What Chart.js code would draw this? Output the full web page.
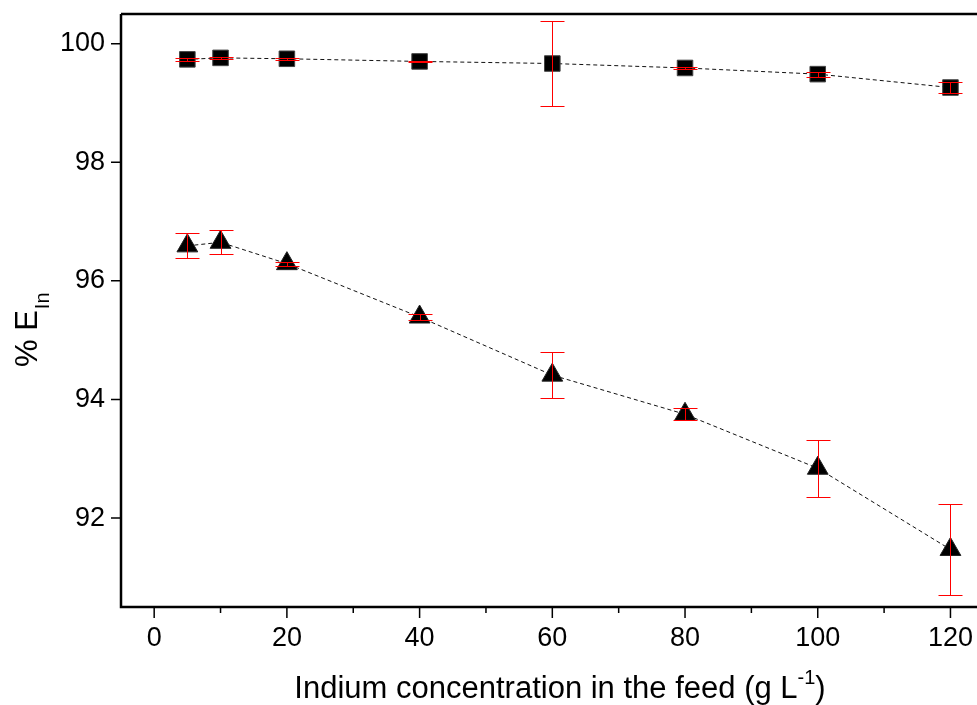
<!DOCTYPE html>
<html>
<head>
<meta charset="utf-8">
<script src="https://cdn.jsdelivr.net/npm/chart.js@4.4.0/dist/chart.umd.min.js"></script>
<style>
  html, body { margin: 0; padding: 0; background: #fff; overflow: hidden; }
  canvas { display: block; }
</style>
</head>
<body>
<canvas id="extractionChart" width="977" height="705"></canvas>
<script>
// feed concentration (g/L) and % extraction of indium, with std. deviations
var feedConc = [5, 10, 20, 40, 60, 80, 100, 120];
var extSquare = [99.735, 99.76, 99.745, 99.70, 99.665, 99.59, 99.486, 99.26];
var errSquare = [0.02, 0.02, 0.02, 0.01, 0.72, 0.015, 0.04, 0.10];
var extTriangle = [96.59, 96.65, 96.29, 95.39, 94.41, 93.75, 92.84, 91.47];
var errTriangle = [0.21, 0.20, 0.035, 0.05, 0.39, 0.10, 0.48, 0.76];

var xTicks = [0, 20, 40, 60, 80, 100, 120];
var xMinorTicks = [10, 30, 50, 70, 90, 110];
var yTicks = [92, 94, 96, 98, 100];

var FONT = '"Liberation Sans", Arial, sans-serif';

function toPoints(xs, ys) {
    return xs.map(function (x, i) { return { x: x, y: ys[i] }; });
}

// red error bars with caps, drawn over the markers
var errorBars = {
    id: 'errorBars',
    afterDatasetsDraw: function (chart) {
        var ctx = chart.ctx, sx = chart.scales.x, sy = chart.scales.y;
        ctx.save();
        ctx.setLineDash([]);
        ctx.strokeStyle = '#ff0000';
        ctx.lineWidth = 1;
        chart.data.datasets.forEach(function (ds) {
            ds.data.forEach(function (p, i) {
                var x = Math.round(sx.getPixelForValue(p.x)) + 0.5;
                var top = Math.round(sy.getPixelForValue(p.y + ds.errors[i])) + 0.5;
                var bot = Math.round(sy.getPixelForValue(p.y - ds.errors[i])) + 0.5;
                ctx.beginPath();
                ctx.moveTo(x, top); ctx.lineTo(x, bot);
                ctx.moveTo(x - 12, top); ctx.lineTo(x + 12, top);
                ctx.moveTo(x - 12, bot); ctx.lineTo(x + 12, bot);
                ctx.stroke();
            });
        });
        ctx.restore();
    }
};

// frame lines, outward ticks and the axis titles with sub/superscripts
var frameAndTitles = {
    id: 'frameAndTitles',
    afterDraw: function (chart) {
        var ctx = chart.ctx, a = chart.chartArea, sx = chart.scales.x, sy = chart.scales.y;
        ctx.save();
        ctx.setLineDash([]);
        ctx.strokeStyle = '#000';
        ctx.lineWidth = 2.5;
        ctx.beginPath();
        ctx.moveTo(a.left, a.top); ctx.lineTo(a.right, a.top);
        ctx.moveTo(a.left, a.top); ctx.lineTo(a.left, a.bottom);
        ctx.lineTo(a.right, a.bottom);
        ctx.stroke();

        ctx.lineWidth = 1.5;
        ctx.beginPath();
        yTicks.forEach(function (v) {
            var y = sy.getPixelForValue(v);
            ctx.moveTo(a.left - 10, y); ctx.lineTo(a.left, y);
        });
        xTicks.forEach(function (v) {
            var x = sx.getPixelForValue(v);
            ctx.moveTo(x, a.bottom); ctx.lineTo(x, a.bottom + 11);
        });
        xMinorTicks.forEach(function (v) {
            var x = sx.getPixelForValue(v);
            ctx.moveTo(x, a.bottom); ctx.lineTo(x, a.bottom + 6);
        });
        ctx.stroke();

        ctx.fillStyle = '#000';
        ctx.textBaseline = 'alphabetic';
        ctx.textAlign = 'left';

        // x title
        var main = 'Indium concentration in the feed (g L';
        ctx.font = '31px ' + FONT;
        var w1 = ctx.measureText(main).width;
        ctx.font = '20px ' + FONT;
        var w2 = ctx.measureText('-1').width;
        ctx.font = '31px ' + FONT;
        var w3 = ctx.measureText(')').width;
        var x0 = 560 - (w1 + w2 + w3) / 2;
        var yb = 698;
        ctx.fillText(main, x0, yb);
        ctx.font = '20px ' + FONT;
        ctx.fillText('-1', x0 + w1, yb - 14);
        ctx.font = '31px ' + FONT;
        ctx.fillText(')', x0 + w1 + w2, yb);

        // y title, rotated
        ctx.translate(37, 367);
        ctx.rotate(-Math.PI / 2);
        ctx.font = '31px ' + FONT;
        ctx.fillText('% E', 0, 0);
        var we = ctx.measureText('% E').width;
        ctx.font = '20px ' + FONT;
        ctx.fillText('In', we + 1, 12);
        ctx.restore();
    }
};

new Chart(document.getElementById('extractionChart').getContext('2d'), {
    type: 'scatter',
    data: {
        datasets: [{
            label: 'square',
            data: toPoints(feedConc, extSquare),
            errors: errSquare,
            showLine: true,
            borderColor: '#111',
            borderWidth: 1,
            borderDash: [4, 3],
            pointStyle: 'rect',
            pointRadius: 11,
            pointBackgroundColor: '#000',
            pointBorderColor: '#444',
            pointBorderWidth: 1
        }, {
            label: 'triangle',
            data: toPoints(feedConc, extTriangle),
            errors: errTriangle,
            showLine: true,
            borderColor: '#111',
            borderWidth: 1,
            borderDash: [4, 3],
            pointStyle: 'triangle',
            pointRadius: 12,
            pointBackgroundColor: '#000',
            pointBorderColor: '#222',
            pointBorderWidth: 1
        }]
    },
    options: {
        responsive: false,
        animation: false,
        devicePixelRatio: 1,
        layout: { autoPadding: false, padding: { top: 14, left: 0, right: 0, bottom: 0 } },
        plugins: {
            legend: { display: false },
            tooltip: { enabled: false }
        },
        scales: {
            x: {
                type: 'linear',
                min: -5,
                max: 124,
                afterBuildTicks: function (s) { s.ticks = xTicks.map(function (v) { return { value: v }; }); },
                afterFit: function (s) { s.height = 98; s.paddingLeft = 0; s.paddingRight = 0; },
                grid: { display: false, drawTicks: false },
                border: { display: false },
                ticks: { padding: 15, color: '#000', font: { family: FONT, size: 27 }, maxRotation: 0 }
            },
            y: {
                type: 'linear',
                min: 90.5,
                max: 100.5,
                afterBuildTicks: function (s) { s.ticks = yTicks.map(function (v) { return { value: v }; }); },
                afterFit: function (s) { s.width = 121; s.paddingTop = 0; s.paddingBottom = 0; },
                grid: { display: false, drawTicks: false },
                border: { display: false },
                ticks: { padding: 16, color: '#000', font: { family: FONT, size: 27 } }
            }
        }
    },
    plugins: [errorBars, frameAndTitles]
});
</script>
</body>
</html>
